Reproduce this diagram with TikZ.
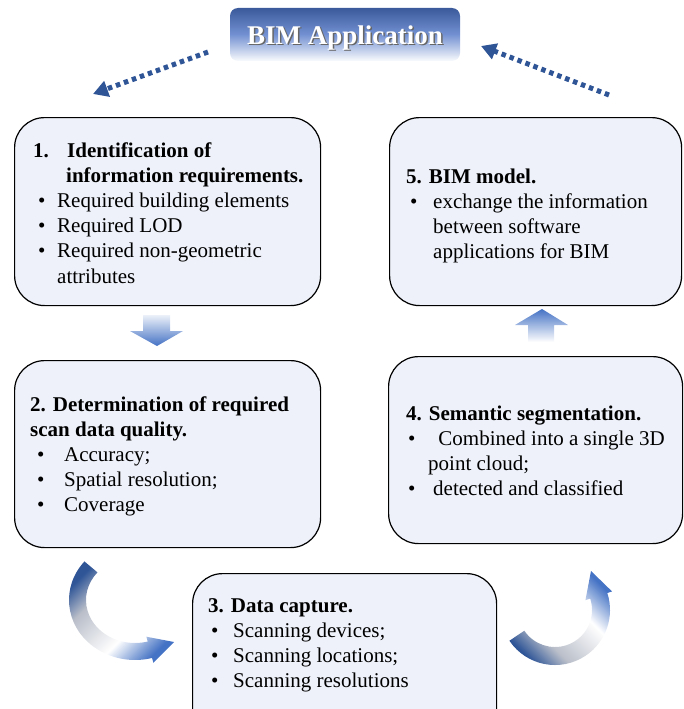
\documentclass[tikz,border=0pt]{standalone}
\usepackage{fontspec}
\setmainfont{Liberation Serif}
\usetikzlibrary{arrows.meta}

\definecolor{boxfill}{HTML}{EEF1F9}
\definecolor{arrowdark}{HTML}{2F5597}
\definecolor{arrowblue}{HTML}{4472C4}
\definecolor{arrowgrey}{HTML}{B9BEC9}
\definecolor{bimtop}{HTML}{3A5A9B}
\definecolor{bimmid}{HTML}{7391D2}

% colour run along the curved arrows: dark tail, grey, white, blue head
\pgfdeclarehorizontalshading{curlshade}{100bp}{color(0bp)=(arrowdark); color(26bp)=(arrowdark); color(38bp)=(arrowgrey); color(60bp)=(white); color(76bp)=(arrowblue); color(100bp)=(arrowblue)}

\tikzset{
  stepbox/.style={draw=black, line width=1.2pt, fill=boxfill, rounded corners=30pt,
    inner sep=0pt, anchor=north west},
  steptext/.style={anchor=base west, inner sep=0pt, font=\fontsize{21}{25.2}\selectfont},
  bimbox/.style={rounded corners=8pt, minimum width=230pt, minimum height=53pt,
    inner sep=0pt, top color=bimtop, bottom color=white!96!bimmid, middle color=bimmid},
  bimfont/.style={inner sep=0pt, font=\fontsize{27}{30}\selectfont\bfseries},
  dotarrow/.style={draw=arrowdark, line width=5pt, dash pattern=on 4.5pt off 4pt,
    -{Triangle[length=15pt,width=16pt]}},
  curl/.style={shading=curlshade},
}

\newcommand{\bul}[1]{\makebox[#1][l]{•}}

\begin{document}
\begin{tikzpicture}[x=1pt, y=-1pt]
\useasboundingbox (0,0) rectangle (683,709);
\clip (0,0) rectangle (683,709);

% title box
\node[bimbox] (bim) at (345,34.5) {};
\node[bimfont, text=black!60] (bimshade) at ([shift={(1.5pt,-5pt)}]bim.center) {BIM Application};
\node[bimfont, text=white] (bimlabel) at ([shift={(0pt,-3.5pt)}]bim.center) {BIM Application};

% dotted arrows beside the title
\coordinate (dl0) at (208,52);
\coordinate (dl1) at (93,94);
\coordinate (dr0) at (609,95);
\coordinate (dr1) at (481,46);
\draw[dotarrow] (dl0) -- (dl1);
\draw[dotarrow] (dr0) -- (dr1);

% step boxes
\node[stepbox, minimum width=306pt, minimum height=188pt] (b1) at (14,117) {};
\node[stepbox, minimum width=292pt, minimum height=188pt] (b5) at (389,117) {};
\node[stepbox, minimum width=306pt, minimum height=187pt] (b2) at (14,360) {};
\node[stepbox, minimum width=294pt, minimum height=187pt] (b4) at (388,356) {};
\node[stepbox, minimum width=304pt, minimum height=170pt] (b3) at (192,573) {};

% step texts
\node[steptext] (t1) at (33,157) {\vtop{%
  \hbox{\bfseries\makebox[34pt][l]{1.}Identification of}
  \hbox{\bfseries\hspace{33pt}information requirements.}
  \hbox{\hspace{5pt}\bul{19pt}Required building elements}
  \hbox{\hspace{5pt}\bul{19pt}Required LOD}
  \hbox{\hspace{5pt}\bul{19pt}Required non-geometric}
  \hbox{\hspace{24pt}attributes}}};

\node[steptext] (t5) at (406,183) {\vtop{%
  \hbox{\bfseries 5. BIM model.}
  \hbox{\hspace{4pt}\bul{23pt}exchange the information}
  \hbox{\hspace{27pt}between software}
  \hbox{\hspace{27pt}applications for BIM}}};

\node[steptext] (t2) at (30,411) {\vtop{%
  \hbox{\bfseries 2. Determination of required}
  \hbox{\bfseries scan data quality.}
  \hbox{\hspace{7pt}\bul{27pt}Accuracy;}
  \hbox{\hspace{7pt}\bul{27pt}Spatial resolution;}
  \hbox{\hspace{7pt}\bul{27pt}Coverage}}};

\node[steptext] (t4) at (406,420) {\vtop{%
  \hbox{\bfseries 4. Semantic segmentation.}
  \hbox{\hspace{2pt}\bul{25pt}\ Combined into a single 3D}
  \hbox{\hspace{22pt}point cloud;}
  \hbox{\hspace{2pt}\bul{25pt}detected and classified}}};

\node[steptext] (t3) at (208,612) {\vtop{%
  \hbox{\bfseries 3. Data capture.}
  \hbox{\hspace{3pt}\bul{22pt}Scanning devices;}
  \hbox{\hspace{3pt}\bul{22pt}Scanning locations;}
  \hbox{\hspace{3pt}\bul{22pt}Scanning resolutions}}};

% straight block arrows between the upper and middle boxes
\path[top color=white!90!arrowblue, bottom color=arrowblue]
  (143,315) -- (170,315) -- (170,331) -- (183,331) -- (157,346)
  -- (130,331) -- (143,331) -- cycle;
\path[top color=arrowblue, bottom color=white]
  (542,309) -- (568,325) -- (554,325) -- (554,342) -- (528,342)
  -- (528,325) -- (515,325) -- cycle;

% curved arrow from box 2 towards box 3
\begin{scope}[shift={(135,600)}]
  \path[curl, shading angle=-45]
    (220:66 and 60) arc[start angle=220, end angle=75, x radius=66, y radius=60]
    -- (75:71 and 65) -- (39,42) -- (75:44 and 38) -- (75:49 and 43)
    arc[start angle=75, end angle=220, x radius=49, y radius=43] -- cycle;
\end{scope}

% curved arrow from box 3 towards box 4
\begin{scope}[shift={(555,610)}]
  \path[curl, shading angle=45]
    (146:55) arc[start angle=146, end angle=-18, radius=55]
    -- (-18:60) -- (36,-39) -- (-18:32) -- (-18:37)
    arc[start angle=-18, end angle=146, radius=37] -- cycle;
\end{scope}
\end{tikzpicture}
\end{document}
